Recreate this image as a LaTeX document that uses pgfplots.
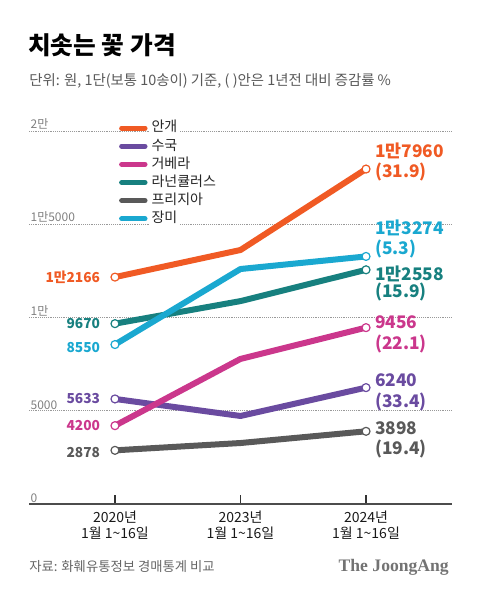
\documentclass[border=0pt]{standalone}
\usepackage{fontspec}
\setmainfont{Noto Sans CJK KR}
\newfontfamily\jaserif{Liberation Serif}
\usepackage{pgfplots}
\pgfplotsset{compat=1.18}
\definecolor{cAn}{HTML}{F05A24}
\definecolor{cSu}{HTML}{6A4BA0}
\definecolor{cGe}{HTML}{CB378C}
\definecolor{cRa}{HTML}{17807F}
\definecolor{cPe}{HTML}{595959}
\definecolor{cJa}{HTML}{1AA8D0}
\begin{document}
\begin{tikzpicture}
\path[use as bounding box] (0,0) rectangle (360pt,-447pt);
\begin{axis}[
  at={(21.75pt,-378pt)}, anchor=south west,
  scale only axis, width=317.25pt, height=279.75pt,
  xmin=-0.685, xmax=2.685, ymin=0, ymax=20000,
  clip=false,
  axis x line*=bottom, axis y line*=left,
  x axis line style={-, draw=black!70, line width=0.9pt},
  y axis line style={draw=none},
  xtick={0,1,2},
  xticklabels={{2020년\\1월 1\textasciitilde16일},{2023년\\1월 1\textasciitilde16일},{2024년\\1월 1\textasciitilde16일}},
  xticklabel style={align=center, font=\fontsize{10.5pt}{12pt}\selectfont, text=black!90, inner sep=0pt},
  tick align=inside, major tick length=6.75pt,
  xtick style={draw=black!80, line width=0.8pt},
  x tick label style={yshift=-5pt},
  ytick={0,5000,10000,15000,20000},
  yticklabels={0,5000,1만,1만5000,2만},
  scaled y ticks=false,
  ytick style={draw=none},
  yticklabel style={anchor=south west, font=\fontsize{9pt}{10pt}\selectfont, text=black!50, inner sep=1pt, xshift=0pt},
  ymajorgrids, grid style={densely dotted, draw=black!40, line width=0.5pt},
  legend style={at={(rel axis cs:0.203,1.04)}, anchor=north west, draw=none, fill=none,
    font=\fontsize{10.5pt}{12pt}\selectfont, text=black!85,
    nodes={fill=white, inner sep=1pt, text height=8.7pt, text depth=2.9pt},
    row sep=0pt, column sep=2pt},
  legend cell align=left,
  legend image code/.code={\draw[line width=3.8pt, line cap=round] (2pt,0pt) -- (19.5pt,0pt);},
]
\addplot[cAn, line width=4.5pt, line join=round, mark=*, mark indices={1,3}, mark size=3pt, mark options={fill=white, draw=cAn, line width=0.9pt}] coordinates {(0,12166) (1,13620) (2,17960)};
\addplot[cSu, line width=4.5pt, line join=round, mark=*, mark indices={1,3}, mark size=3pt, mark options={fill=white, draw=cSu, line width=0.9pt}] coordinates {(0,5633) (1,4720) (2,6240)};
\addplot[cGe, line width=4.5pt, line join=round, mark=*, mark indices={1,3}, mark size=3pt, mark options={fill=white, draw=cGe, line width=0.9pt}] coordinates {(0,4200) (1,7780) (2,9456)};
\addplot[cRa, line width=4.5pt, line join=round, mark=*, mark indices={1,3}, mark size=3pt, mark options={fill=white, draw=cRa, line width=0.9pt}] coordinates {(0,9670) (1,10880) (2,12558)};
\addplot[cPe, line width=4.5pt, line join=round, mark=*, mark indices={1,3}, mark size=3pt, mark options={fill=white, draw=cPe, line width=0.9pt}] coordinates {(0,2878) (1,3270) (2,3898)};
\addplot[cJa, line width=4.5pt, line join=round, mark=*, mark indices={1,3}, mark size=3pt, mark options={fill=white, draw=cJa, line width=0.9pt}] coordinates {(0,8550) (1,12600) (2,13274)};
\legend{안개,수국,거베라,라넌큘러스,프리지아,장미}
% left labels
\begin{scope}[every node/.style={anchor=east, inner sep=0pt, font=\fontsize{10.3pt}{12pt}\selectfont\bfseries, xshift=-11pt}]
\node[text=cAn] at (axis cs:0,12166) {1만2166};
\node[text=cRa] at (axis cs:0,9670) {9670};
\node[text=cJa, yshift=-2pt] at (axis cs:0,8550) {8550};
\node[text=cSu] at (axis cs:0,5633) {5633};
\node[text=cGe] at (axis cs:0,4200) {4200};
\node[text=cPe, yshift=-2pt] at (axis cs:0,2878) {2878};
\end{scope}
% right labels
\begin{scope}[every node/.style={anchor=west, inner sep=0pt, font=\fontsize{13pt}{15pt}\selectfont\bfseries, xshift=6.75pt}]
\node[text=cAn, yshift=13.7pt] at (axis cs:2,17960) {1만7960};
\node[text=cAn, yshift=-2.5pt] at (axis cs:2,17960) {(31.9)};
\node[text=cJa, yshift=21.5pt] at (axis cs:2,13274) {1만3274};
\node[text=cJa, yshift=5.8pt] at (axis cs:2,13274) {(5.3)};
\node[text=cRa, yshift=-3pt] at (axis cs:2,12558) {1만2558};
\node[text=cRa, yshift=-16.8pt] at (axis cs:2,12558) {(15.9)};
\node[text=cGe, yshift=4.2pt] at (axis cs:2,9456) {9456};
\node[text=cGe, yshift=-12pt] at (axis cs:2,9456) {(22.1)};
\node[text=cSu, yshift=5.5pt] at (axis cs:2,6240) {6240};
\node[text=cSu, yshift=-10.8pt] at (axis cs:2,6240) {(33.4)};
\node[text=cPe, yshift=2.5pt] at (axis cs:2,3898) {3898};
\node[text=cPe, yshift=-13.5pt] at (axis cs:2,3898) {(19.4)};
\end{scope}
\end{axis}
\begin{scope}[x=0.75pt, y=-0.75pt]
\node[anchor=west, inner sep=0pt, font=\fontsize{18.5pt}{20pt}\selectfont\bfseries] at (28,45) {치솟는 꽃 가격};
\node[anchor=west, inner sep=0pt, text=black!65, font=\fontsize{10.8pt}{12pt}\selectfont] at (29,81) {단위: 원, 1단(보통 10송이) 기준, ( )안은 1년전 대비 증감률 \%};
\node[anchor=west, inner sep=0pt, text=black!60, font=\fontsize{10pt}{12pt}\selectfont] at (29,567) {자료: 화훼유통정보 경매통계 비교};
\node[anchor=east, inner sep=0pt, text=black!55, font=\fontsize{13.2pt}{14pt}\selectfont\jaserif\bfseries] at (449,567) {The JoongAng};
\end{scope}
\end{tikzpicture}
\end{document}
